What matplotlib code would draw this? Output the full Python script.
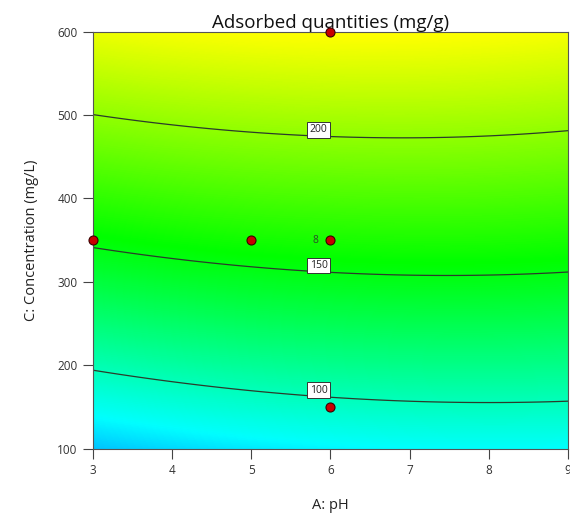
import numpy as np
import matplotlib
matplotlib.use("Agg")
import matplotlib.pyplot as plt
from matplotlib.colors import LinearSegmentedColormap

# ---- data ----
# contour-line positions (pH, concentration), per level
level_values = [100, 150, 200]
line_ph = {
    100: [3.0, 5.8, 8.0, 9.0],
    150: [3.0, 5.8, 7.4, 9.0],
    200: [3.0, 5.85, 7.2, 9.0],
}
line_conc = {
    100: [194.0, 163.0, 155.0, 157.0],
    150: [341.0, 313.0, 307.0, 312.0],
    200: [500.6, 475.0, 472.6, 481.4],
}
# design points
design_ph = [6, 3, 5, 6, 6]
design_conc = [600, 350, 350, 350, 150]
center_label = "8"

x_ticks = [3, 4, 5, 6, 7, 8, 9]
y_ticks = [100, 200, 300, 400, 500, 600]

# ---- quadratic response surface fitted to the read contour points ----
def coded(ph, conc):
    return (np.asarray(ph) - 6.0) / 3.0, (np.asarray(conc) - 350.0) / 250.0

def design_matrix(a, c):
    return np.column_stack([np.ones_like(a), a, c, a * a, c * c, a * c])

A_list, C_list, Y_list = [], [], []
for lv in level_values:
    A_list += line_ph[lv]
    C_list += line_conc[lv]
    Y_list += [lv] * len(line_ph[lv])
a_pts, c_pts = coded(A_list, C_list)
coef, *_ = np.linalg.lstsq(design_matrix(a_pts, c_pts), np.array(Y_list, float), rcond=None)

def model(ph, conc):
    a, c = coded(ph, conc)
    return (coef[0] + coef[1] * a + coef[2] * c + coef[3] * a * a
            + coef[4] * c * c + coef[5] * a * c)

ph_grid = np.linspace(3, 9, 400)
conc_grid = np.linspace(100, 600, 400)
PH, CC = np.meshgrid(ph_grid, conc_grid)
Z = model(PH, CC)

# colour map similar to Design-Expert (blue - cyan - green - yellow)
v_blue, v_cyan, v_green, v_yellow = 20.0, 80.0, 155.0, 235.0
span = v_yellow - v_blue
cmap = LinearSegmentedColormap.from_list(
    "de", [(0.0, (0, 0, 1)), ((v_cyan - v_blue) / span, (0, 1, 1)),
           ((v_green - v_blue) / span, (0, 1, 0)), (1.0, (1, 1, 0))])

FONT = "Open Sans"

fig = plt.figure(figsize=(5.70, 5.18), dpi=100)
ax = fig.add_axes([0.163, 0.134, 0.8335, 0.8048])

ax.pcolormesh(PH, CC, Z, cmap=cmap, vmin=v_blue, vmax=v_yellow,
              shading="gouraud", rasterized=True)
cs = ax.contour(PH, CC, Z, levels=level_values, colors="#2b3b2b", linewidths=0.9)

# contour labels in white boxes slightly above the lines
label_ph = 5.85
for lv in level_values:
    col = model(np.full_like(conc_grid, label_ph), conc_grid)
    conc_at = np.interp(lv, col, conc_grid)
    ax.annotate(str(lv), xy=(label_ph, conc_at), xytext=(0, 4.5),
                textcoords="offset points", ha="center", va="center",
                fontsize=7.5, fontfamily=FONT, color="#222222",
                bbox=dict(boxstyle="square,pad=0.22", fc="white", ec="#333333", lw=0.7),
                zorder=5)

ax.plot(design_ph, design_conc, "o", ms=6.5, mfc="#c80000", mec="#3a0000",
        mew=0.8, clip_on=False, zorder=6)
ax.annotate(center_label, xy=(6, 350), xytext=(-11, 0), textcoords="offset points",
            ha="center", va="center", fontsize=7.5, fontfamily=FONT,
            color="#2b4b2b", zorder=6)

ax.set_xlim(3, 9)
ax.set_ylim(100, 600)
ax.set_xticks(x_ticks)
ax.set_yticks(y_ticks)
ax.tick_params(direction="out", length=7, width=0.8, color="#444444",
               labelsize=8.5, labelcolor="#333333", pad=4)
for lab in ax.get_xticklabels() + ax.get_yticklabels():
    lab.set_fontfamily(FONT)
for sp in ax.spines.values():
    sp.set_color("#555555")
    sp.set_linewidth(0.8)

ax.set_title("Adsorbed quantities (mg/g)", fontsize=13.5, fontfamily=FONT,
             color="#111111", pad=2)
ax.set_xlabel("A: pH", fontsize=10.5, fontfamily=FONT, color="#222222", labelpad=15)
ax.set_ylabel("C: Concentration (mg/L)", fontsize=10.5, fontfamily=FONT,
              color="#222222", labelpad=13)

fig.savefig("out.png", dpi=100)
